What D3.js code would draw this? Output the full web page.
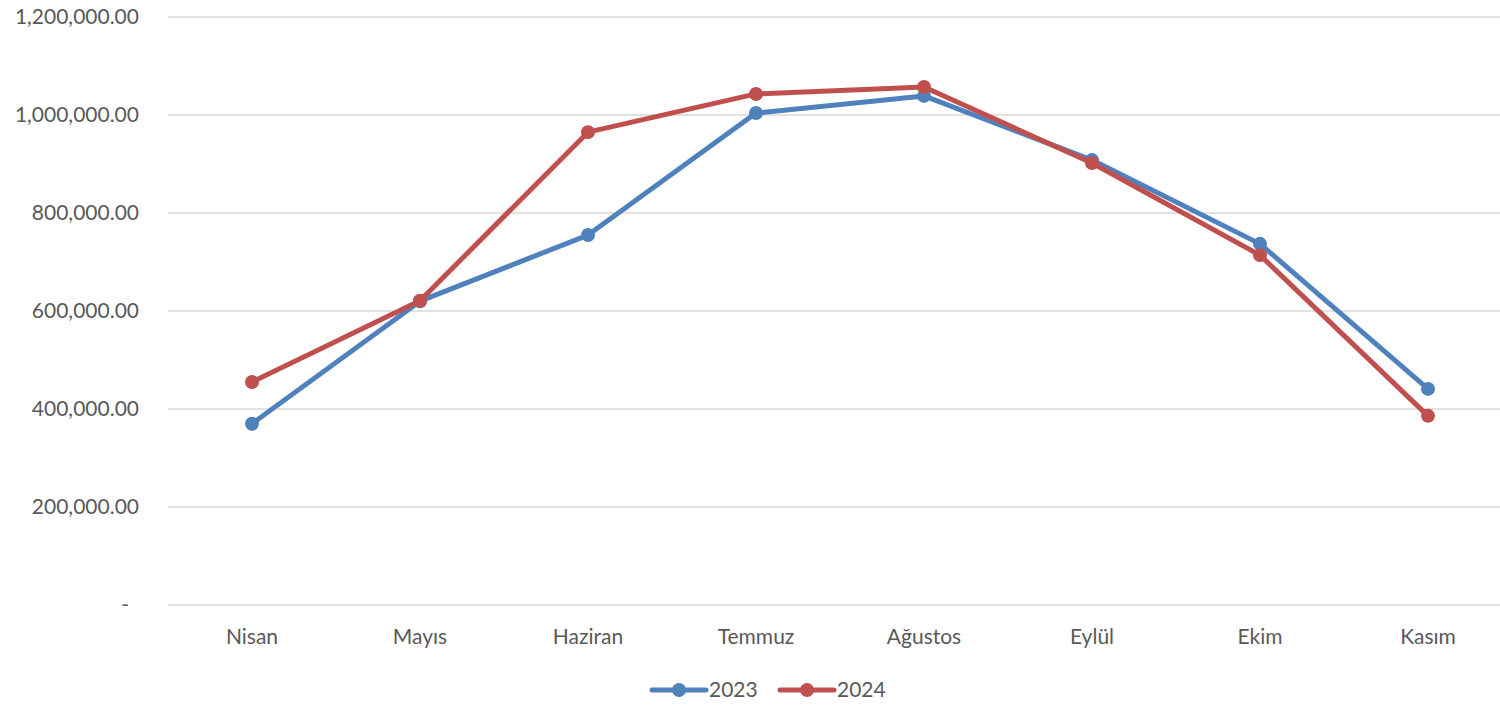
<!DOCTYPE html>
<html>
  <head>
    <meta charset="utf-8">
    <title>2023 - 2024</title>
    <script src="https://d3js.org/d3.v7.min.js"></script>
    <style>
      body { margin: 0; background: #fff; }
      text { font-family: Lato, "Open Sans", sans-serif; fill: #595959; }
    </style>
  </head>
  <body>
    <div id="chart"></div>
    <script>
      // Data
      const months = ["Nisan", "Mayıs", "Haziran", "Temmuz", "Ağustos", "Eylül", "Ekim", "Kasım"];
      const values2023 = [370000, 620000, 755000, 1004000, 1039000, 908000, 737000, 441000];
      const values2024 = [455000, 621000, 965000, 1043000, 1057000, 902000, 714000, 386000];
      const yTicks = [0, 200000, 400000, 600000, 800000, 1000000, 1200000];

      const width = 1500;
      const height = 709;

      const svg = d3.select("#chart")
        .append("svg")
        .attr("width", width)
        .attr("height", height);

      const x = d3.scaleBand()
        .domain(months)
        .range([168, 1512]);

      const y = d3.scaleLinear()
        .domain([0, 1200000])
        .range([605, 17]);

      // Horizontal grid lines
      svg.append("g")
        .selectAll("line")
        .data(yTicks)
        .enter()
        .append("line")
        .attr("x1", 168)
        .attr("x2", width)
        .attr("y1", d => y(d))
        .attr("y2", d => y(d))
        .attr("stroke", "#d9d9d9")
        .attr("stroke-width", 1.5);

      // Y axis labels
      const fmt = d3.format(",.2f");
      svg.append("g")
        .selectAll("text")
        .data(yTicks)
        .enter()
        .append("text")
        .attr("x", d => d === 0 ? 129 : 139)
        .attr("y", d => y(d))
        .attr("dy", "0.35em")
        .attr("text-anchor", "end")
        .style("font-size", "21px")
        .text(d => d === 0 ? "-" : fmt(d));

      // X axis labels
      svg.append("g")
        .selectAll("text")
        .data(months)
        .enter()
        .append("text")
        .attr("x", d => x(d) + x.bandwidth() / 2)
        .attr("y", 637)
        .attr("dy", "0.35em")
        .attr("text-anchor", "middle")
        .style("font-size", "21px")
        .text(d => d);

      const series = [
        { name: "2023", values: values2023, color: "#4F81BD" },
        { name: "2024", values: values2024, color: "#C0504D" }
      ];

      const line = d3.line()
        .x((d, i) => x(months[i]) + x.bandwidth() / 2)
        .y(d => y(d));

      series.forEach(function(s) {
        svg.append("path")
          .datum(s.values)
          .attr("fill", "none")
          .attr("stroke", s.color)
          .attr("stroke-width", 5)
          .attr("stroke-linejoin", "round")
          .attr("stroke-linecap", "round")
          .attr("d", line);

        svg.append("g")
          .selectAll("circle")
          .data(s.values)
          .enter()
          .append("circle")
          .attr("cx", (d, i) => x(months[i]) + x.bandwidth() / 2)
          .attr("cy", d => y(d))
          .attr("r", 7)
          .attr("fill", s.color);
      });

      // Legend
      const legend = svg.append("g")
        .selectAll("g")
        .data(series)
        .enter()
        .append("g")
        .attr("transform", (d, i) => "translate(" + (652 + i * 128) + ",690)");

      legend.append("line")
        .attr("x1", 0)
        .attr("x2", 54)
        .attr("stroke", d => d.color)
        .attr("stroke-width", 5)
        .attr("stroke-linecap", "round");

      legend.append("circle")
        .attr("cx", 27)
        .attr("r", 7)
        .attr("fill", d => d.color);

      legend.append("text")
        .attr("x", 57)
        .attr("dy", "0.35em")
        .style("font-size", "21px")
        .text(d => d.name);
    </script>
  </body>
</html>
